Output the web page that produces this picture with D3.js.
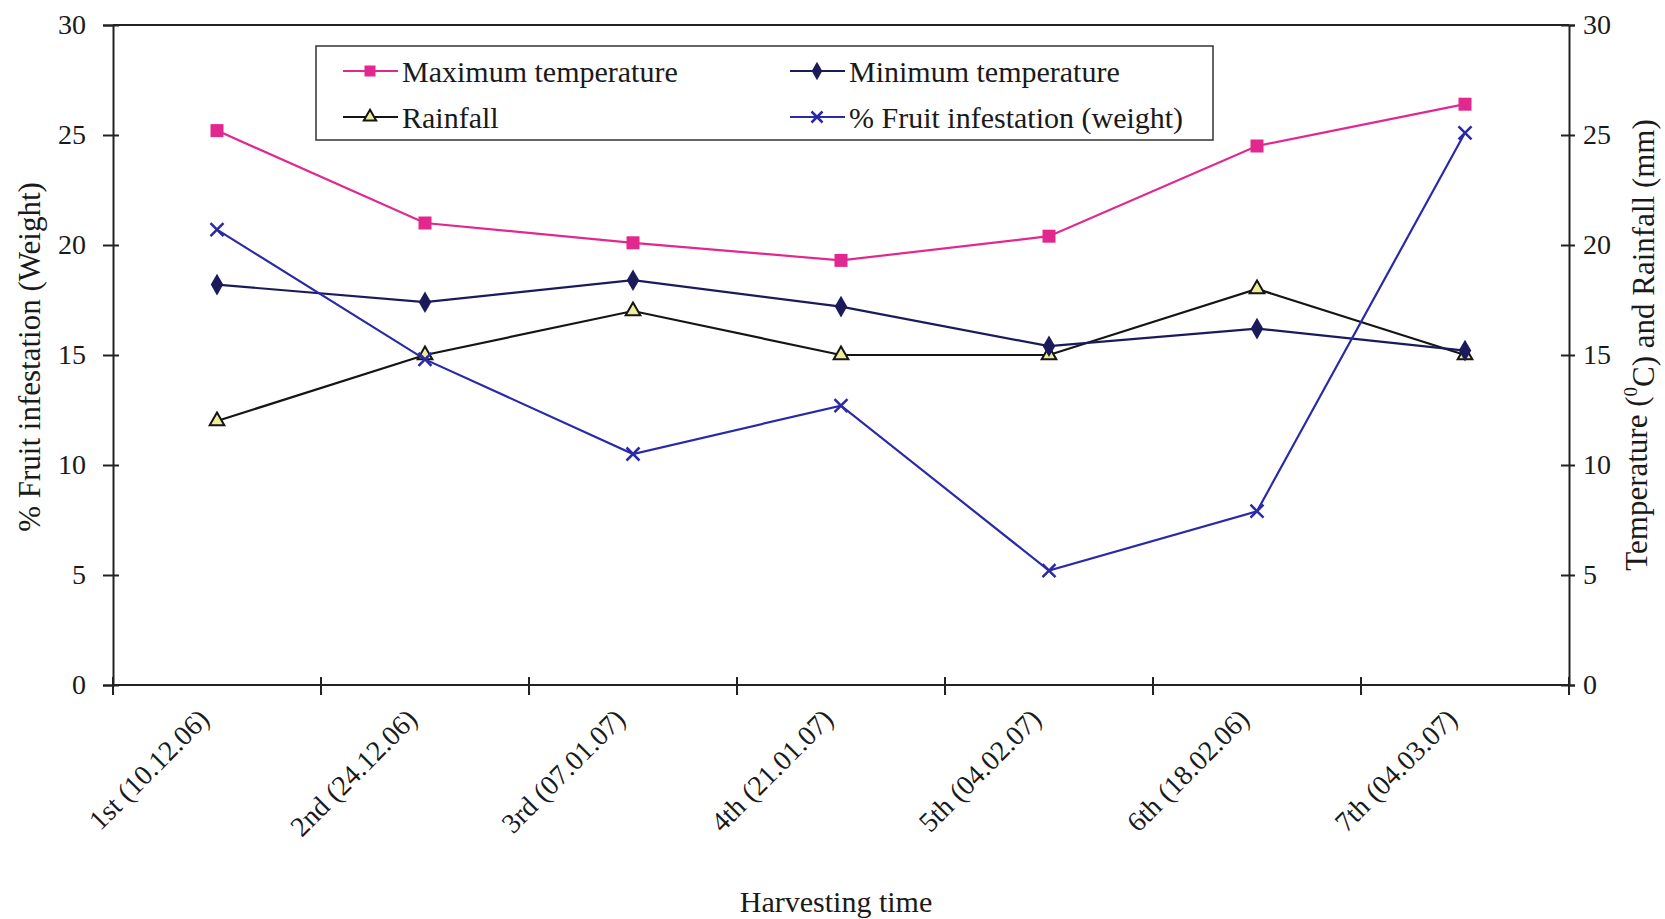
<!DOCTYPE html>
<html lang="en">
<head>
    <meta charset="UTF-8">
    <title>Harvesting time chart</title>
    <style>
        body { margin: 0; background: #ffffff; }
        svg { display: block; font-family: "Liberation Serif", "Times New Roman", serif; }
        .axis path, .axis line { stroke: #222; stroke-width: 2; }
        .axis text { font-family: "Liberation Serif", "Times New Roman", serif; font-size: 28px; fill: #1a1a1a; }
    </style>
</head>
<body>
    <svg id="chart" width="1665" height="919"></svg>

    <script src="https://d3js.org/d3.v7.min.js"></script>
    <script>
        const categories = ["1st (10.12.06)", "2nd (24.12.06)", "3rd (07.01.07)", "4th (21.01.07)",
                            "5th (04.02.07)", "6th (18.02.06)", "7th (04.03.07)"];
        const maxTemp = [25.2, 21.0, 20.1, 19.3, 20.4, 24.5, 26.4];
        const minTemp = [18.2, 17.4, 18.4, 17.2, 15.4, 16.2, 15.2];
        const rainfall = [12.0, 15.0, 17.0, 15.0, 15.0, 18.0, 15.0];
        const infestation = [20.7, 14.8, 10.5, 12.7, 5.2, 7.9, 25.1];
        const yTicks = [0, 5, 10, 15, 20, 25, 30];
        const seriesNames = ["Maximum temperature", "Minimum temperature", "Rainfall", "% Fruit infestation (weight)"];

        // styles kept apart from the values
        const styles = [
            { color: "#e2288f", marker: "square" },
            { color: "#1b1b5c", marker: "diamond" },
            { color: "#151515", marker: "triangle" },
            { color: "#2a2aa8", marker: "cross" }
        ];
        const seriesValues = [maxTemp, minTemp, rainfall, infestation];

        const svg = d3.select("#chart");
        const plotLeft = 113, plotRight = 1569, plotTop = 25, plotBottom = 685;

        const x = d3.scaleBand().domain(categories).range([plotLeft, plotRight]);
        const yLeft = d3.scaleLinear().domain([0, 30]).range([plotBottom, plotTop]);
        const yRight = d3.scaleLinear().domain([0, 30]).range([plotBottom, plotTop]);

        // top border of plot area
        svg.append("line")
            .attr("x1", plotLeft).attr("x2", plotRight)
            .attr("y1", plotTop).attr("y2", plotTop)
            .attr("stroke", "#222").attr("stroke-width", 2);

        const gLeft = svg.append("g").attr("class", "axis")
            .attr("transform", `translate(${plotLeft},0)`)
            .call(d3.axisLeft(yLeft).tickValues(yTicks).tickSize(10).tickPadding(17));
        gLeft.selectAll(".tick line").attr("x1", 6);

        const gRight = svg.append("g").attr("class", "axis")
            .attr("transform", `translate(${plotRight},0)`)
            .call(d3.axisRight(yRight).tickValues(yTicks).tickSize(6).tickPadding(8));
        gRight.selectAll(".tick line").attr("x1", -8);

        // bottom axis: ticks at band boundaries, labels at band centres
        const gBottom = svg.append("g").attr("class", "axis")
            .attr("transform", `translate(0,${plotBottom})`);
        gBottom.append("line").attr("x1", plotLeft).attr("x2", plotRight).attr("y1", 0).attr("y2", 0);
        const boundaries = categories.map(c => x(c)).concat([x.range()[1]]);
        gBottom.selectAll(".btick")
            .data(boundaries)
            .enter().append("line")
            .attr("x1", d => d).attr("x2", d => d)
            .attr("y1", -8).attr("y2", 10);
        gBottom.selectAll(".clabel")
            .data(categories)
            .enter().append("text")
            .attr("transform", d => `translate(${x(d) + x.bandwidth() / 2 - 20},22) rotate(-45)`)
            .attr("text-anchor", "end")
            .attr("dy", "0.7em")
            .style("font-size", "28px")
            .text(d => d);

        // axis titles
        svg.append("text")
            .attr("transform", "translate(40,357) rotate(-90)")
            .attr("text-anchor", "middle")
            .style("font-size", "31px").attr("fill", "#1a1a1a")
            .text("% Fruit infestation (Weight)");

        const rt = svg.append("text")
            .attr("transform", "translate(1647,345) rotate(-90)")
            .attr("text-anchor", "middle")
            .style("font-size", "31px").attr("fill", "#1a1a1a");
        rt.append("tspan").text("Temperature (");
        rt.append("tspan").attr("dy", "-0.55em").style("font-size", "19px").text("0");
        rt.append("tspan").attr("dy", "0.55em").text("C) and Rainfall (mm)");

        svg.append("text")
            .attr("x", 836).attr("y", 912)
            .attr("text-anchor", "middle")
            .style("font-size", "30px").attr("fill", "#1a1a1a")
            .text("Harvesting time");

        function drawMarker(g, type, color, size) {
            if (type === "square") {
                g.append("rect").attr("x", -size / 2).attr("y", -size / 2)
                    .attr("width", size).attr("height", size).attr("fill", color);
            } else if (type === "diamond") {
                g.append("path").attr("d", d3.symbol(d3.symbolDiamond, size * size * 0.8)())
                    .attr("fill", color);
            } else if (type === "triangle") {
                g.append("path").attr("d", d3.symbol(d3.symbolTriangle, size * size * 0.55)())
                    .attr("fill", "#eeee9a").attr("stroke", color).attr("stroke-width", 2);
            } else {
                const h = size / 2;
                g.append("path").attr("d", `M${-h},${-h}L${h},${h}M${-h},${h}L${h},${-h}`)
                    .attr("stroke", color).attr("stroke-width", 2.5).attr("fill", "none");
            }
        }

        const line = d3.line()
            .x((d, i) => x(categories[i]) + x.bandwidth() / 2);

        // draw order: rainfall, min, max, infestation
        [2, 1, 0, 3].forEach(si => {
            const vals = seriesValues[si];
            const st = styles[si];
            const yS = si === 3 ? yLeft : yRight;
            svg.append("path")
                .datum(vals)
                .attr("fill", "none")
                .attr("stroke", st.color)
                .attr("stroke-width", 2.2)
                .attr("d", line.y(d => yS(d)));
            vals.forEach((v, i) => {
                const g = svg.append("g")
                    .attr("transform", `translate(${x(categories[i]) + x.bandwidth() / 2},${yS(v)})`);
                drawMarker(g, st.marker, st.color, 13);
            });
        });

        // legend
        const legend = svg.append("g");
        legend.append("rect")
            .attr("x", 316).attr("y", 46).attr("width", 897).attr("height", 94)
            .attr("fill", "#ffffff").attr("stroke", "#333").attr("stroke-width", 1.5);
        const legendPos = [[343, 71], [790, 71], [343, 117], [790, 117]];
        seriesNames.forEach((name, si) => {
            const [lx, ly] = legendPos[si];
            const st = styles[si];
            legend.append("line")
                .attr("x1", lx).attr("x2", lx + 55).attr("y1", ly).attr("y2", ly)
                .attr("stroke", st.color).attr("stroke-width", 2.2);
            drawMarker(legend.append("g").attr("transform", `translate(${lx + 27},${ly})`),
                st.marker, st.color, 11);
            legend.append("text")
                .attr("x", lx + 59).attr("y", ly).attr("dy", "0.35em")
                .style("font-size", "30px").attr("fill", "#1a1a1a")
                .text(name);
        });
    </script>
</body>
</html>
